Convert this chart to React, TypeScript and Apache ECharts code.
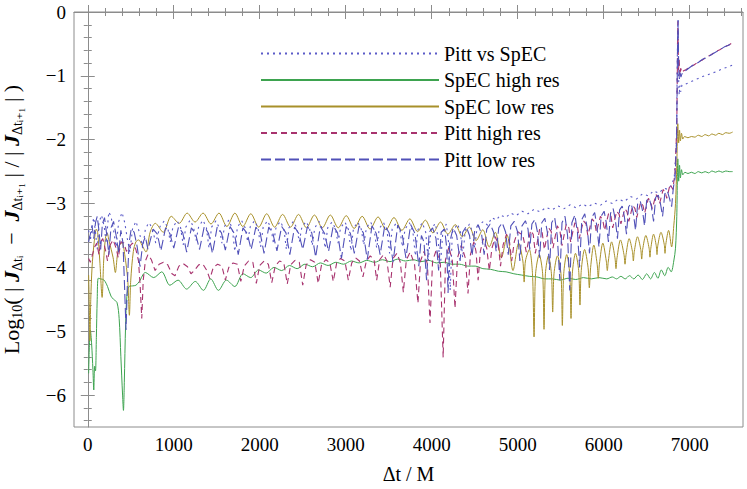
import React, { useEffect, useRef } from "react";
import * as echarts from "echarts";

const seriesNames = ["Pitt vs SpEC", "SpEC high res", "SpEC low res", "Pitt high res", "Pitt low res"];

const xMajorTicks = [0, 1000, 2000, 3000, 4000, 5000, 6000, 7000];
const xMinorTicks = [0, 200, 400, 600, 800, 1000, 1200, 1400, 1600, 1800, 2000, 2200, 2400, 2600, 2800, 3000, 3200, 3400, 3600, 3800, 4000, 4200, 4400, 4600, 4800, 5000, 5200, 5400, 5600, 5800, 6000, 6200, 6400, 6600, 6800, 7000, 7200, 7400, 7600];
const yMajorTicks = [-6, -5, -4, -3, -2, -1, 0];
const yMinorTicks = [-6.4, -6.2, -6, -5.8, -5.6, -5.4, -5.2, -5, -4.8, -4.6, -4.4, -4.2, -4, -3.8, -3.6, -3.4, -3.2, -3, -2.8, -2.6, -2.4, -2.2, -2, -1.8, -1.6, -1.4, -1.2, -1, -0.8, -0.6, -0.4, -0.2, 0];

const pittVsSpec: [number, number][] = [
  [10,-3.42],[30,-3.58],[50,-3.35],[70,-3.22],[90,-3.45],[110,-3.72],[130,-3.3],[160,-3.18],[190,-3.35],[215,-3.62],[244,-3.13],[270,-3.2],[300,-3.42],[330,-3.68],[360,-3.28],[399,-3.14],[430,-3.3],[460,-3.55],[490,-3.76],[520,-3.4],[560,-3.28],[600,-3.45],[640,-3.7],[670,-3.4],[710,-3.3],[750,-3.38],[790,-3.62],[840,-3.36],
  [890,-3.27],[930,-3.38],[960,-3.6],[990,-3.37],
  [1040,-3.27],[1080,-3.38],[1110,-3.65],[1140,-3.37],
  [1190,-3.26],[1230,-3.37],[1260,-3.58],[1290,-3.36],
  [1340,-3.26],[1380,-3.38],[1410,-3.7],[1440,-3.37],
  [1490,-3.27],[1530,-3.38],[1560,-3.62],[1590,-3.36],
  [1640,-3.26],[1680,-3.39],[1710,-3.75],[1740,-3.37],
  [1790,-3.27],[1830,-3.38],[1860,-3.6],[1890,-3.36],
  [1940,-3.27],[1980,-3.38],[2010,-3.68],[2040,-3.37],
  [2090,-3.27],[2130,-3.38],[2160,-3.63],[2190,-3.37],
  [2240,-3.28],[2280,-3.39],[2310,-3.72],[2340,-3.38],
  [2390,-3.28],[2430,-3.38],[2460,-3.6],[2490,-3.37],
  [2540,-3.28],[2580,-3.39],[2610,-3.66],[2640,-3.38],
  [2690,-3.28],[2730,-3.4],[2760,-3.7],[2790,-3.38],
  [2840,-3.29],[2880,-3.39],[2910,-3.62],[2940,-3.38],
  [2990,-3.29],[3030,-3.4],[3060,-3.74],[3090,-3.39],
  [3140,-3.29],[3180,-3.4],[3210,-3.65],[3240,-3.38],
  [3290,-3.29],[3330,-3.41],[3360,-3.7],[3390,-3.39],
  [3440,-3.3],[3480,-3.42],[3510,-3.78],[3540,-3.4],
  [3590,-3.3],[3630,-3.42],[3660,-3.68],[3690,-3.4],
  [3740,-3.3],[3780,-3.43],[3810,-3.82],[3840,-3.41],
  [3890,-3.3],[3930,-3.45],[3960,-3.9],[3990,-3.42],
  [4040,-3.31],[4070,-3.5],[4100,-4.0],[4130,-3.43],
  [4170,-3.32],[4195,-3.6],[4215,-4.36],[4240,-3.45],
  [4300,-3.32],[4335,-3.45],[4360,-3.85],[4390,-3.42],
  [4440,-3.32],[4475,-3.45],[4500,-3.7],[4525,-3.4],
  [4560,-3.33],[4600,-3.28],[4650,-3.34],[4700,-3.22],[4750,-3.26],[4800,-3.18],[4860,-3.22],[4920,-3.15],[4980,-3.19],[5050,-3.12],[5120,-3.16],[5190,-3.09],[5260,-3.13],[5330,-3.06],[5400,-3.1],[5470,-3.04],[5540,-3.08],[5610,-3.02],[5680,-3.07],[5750,-3.01],[5820,-3.05],[5890,-2.99],[5960,-3.03],[6030,-2.96],[6100,-3.0],[6170,-2.93],[6240,-2.97],[6310,-2.89],[6380,-2.93],[6450,-2.85],[6520,-2.88],[6580,-2.8],[6640,-2.84],[6700,-2.76],[6750,-2.78],[6790,-2.7],[6820,-2.6],[6845,-2.1],[6858,-0.5],[6864,-0.13],[6870,-1.0],[6878,-1.3],[6886,-1.15],[6895,-1.25],[6910,-1.14],[6950,-1.13],[7000,-1.1],[7050,-1.07],[7100,-1.04],[7150,-1.01],[7200,-0.99],[7250,-0.96],[7300,-0.94],[7350,-0.91],[7400,-0.88],[7450,-0.86],[7500,-0.83]
];

const specHigh: [number, number][] = [
  [10,-5.66],[20,-5.2],[30,-4.98],[45,-5.2],[60,-5.6],[70,-5.92],[80,-5.55],[90,-5.62],[100,-5.1],[110,-4.5],[122,-4.17],[150,-4.18],[190,-4.2],[230,-4.3],[270,-4.45],[300,-4.5],[340,-4.55],[365,-4.8],[385,-5.4],[405,-6.0],[415,-6.24],[425,-5.8],[440,-4.9],[455,-4.45],[480,-4.3],[520,-4.29],[560,-4.28],[600,-4.22],[670,-4.08],[767,-4.16],[860,-4.07],[955,-4.28],[1050,-4.2],[1150,-4.34],[1250,-4.22],[1345,-4.36],[1430,-4.18],[1520,-4.36],[1613,-4.2],[1710,-4.3],[1806,-4.1],[1895,-4.16],[1985,-4.04],[2075,-4.09],[2165,-4.0],[2255,-4.05],[2345,-3.97],[2435,-4.02],[2525,-3.95],[2615,-3.99],[2705,-3.93],[2795,-3.97],[2885,-3.92],[2975,-3.95],[3065,-3.9],[3155,-3.93],[3245,-3.89],[3335,-3.92],[3425,-3.88],[3515,-3.91],[3605,-3.87],[3695,-3.9],[3785,-3.88],[3875,-3.91],[3965,-3.89],[4055,-3.93],[4145,-3.92],[4235,-3.95],[4325,-3.95],[4415,-3.98],[4505,-3.98],[4595,-4.02],[4685,-4.03],[4775,-4.06],[4865,-4.07],[4955,-4.1],[5045,-4.12],[5135,-4.14],[5225,-4.15],[5315,-4.18],[5405,-4.18],[5495,-4.2],[5585,-4.17],[5675,-4.19],[5765,-4.16],[5855,-4.18],[5945,-4.16],[6035,-4.18],[6100,-4.15],[6150,-4.18],[6200,-4.14],[6250,-4.18],[6300,-4.13],[6350,-4.18],[6400,-4.12],[6450,-4.19],[6500,-4.1],[6545,-4.18],[6590,-4.08],[6630,-4.17],[6670,-4.04],[6710,-4.13],[6750,-4.0],[6785,-4.07],[6815,-3.9],[6835,-3.7],[6850,-3.2],[6862,-2.3],[6872,-2.65],[6882,-2.4],[6892,-2.6],[6905,-2.47],[6920,-2.55],[6945,-2.51],[6980,-2.53],[7020,-2.51],[7060,-2.53],[7100,-2.5],[7140,-2.52],[7180,-2.5],[7220,-2.52],[7260,-2.49],[7300,-2.51],[7340,-2.49],[7380,-2.51],[7420,-2.49],[7460,-2.5],[7500,-2.5]
];

const specLow: [number, number][] = [
  [10,-4.12],[18,-4.6],[25,-5.15],[35,-4.5],[50,-4.0],[75,-3.6],[100,-3.4],[115,-3.45],[140,-3.9],[167,-4.47],[185,-3.9],[205,-3.55],[224,-3.46],[250,-3.6],[295,-3.85],[321,-4.08],[345,-3.8],[370,-3.64],[399,-3.62],[430,-3.8],[465,-4.2],[484,-4.75],[500,-4.2],[530,-3.75],[560,-3.6],[593,-3.57],[630,-3.65],[678,-3.76],[725,-3.45],
  [786,-3.31],[878,-3.45],[971,-3.2],[1063,-3.31],[1156,-3.15],[1248,-3.29],[1341,-3.15],[1433,-3.32],[1526,-3.15],[1618,-3.36],[1711,-3.15],[1803,-3.36],[1896,-3.16],[1988,-3.37],[2081,-3.16],[2173,-3.37],[2266,-3.17],[2358,-3.37],[2451,-3.17],[2543,-3.38],[2636,-3.18],[2728,-3.38],[2821,-3.18],[2913,-3.38],[3006,-3.19],[3098,-3.39],[3191,-3.2],[3283,-3.4],[3376,-3.21],[3468,-3.41],[3561,-3.22],[3653,-3.42],[3746,-3.24],[3836,-3.44],[3926,-3.26],[4014,-3.46],[4102,-3.29],[4188,-3.48],[4274,-3.33],[4356,-3.52],[4438,-3.37],[4516,-3.58],[4594,-3.41],[4668,-3.68],[4740,-3.45],[4810,-3.85],[4878,-3.5],[4945,-4.05],[5010,-3.62],[5060,-3.9],[5075,-4.23],[5090,-3.9],[5135,-3.72],[5172,-4.1],[5190,-5.09],[5208,-4.1],[5250,-3.8],[5290,-4.1],[5306,-4.97],[5322,-4.1],[5357,-3.82],[5392,-4.1],[5407,-4.7],[5422,-4.1],[5462,-3.82],[5503,-4.1],[5519,-4.91],[5535,-4.1],[5570,-3.8],[5605,-4.1],[5620,-4.8],[5635,-4.1],[5672,-3.78],[5709,-4.05],[5724,-4.59],[5739,-4.05],[5778,-3.72],[5818,-4.0],[5833,-4.32],[5848,-4.0],[5885,-3.65],[5924,-3.95],[5937,-4.17],[5950,-3.95],[5990,-3.62],[6030,-3.9],[6042,-4.05],[6054,-3.9],[6092,-3.6],[6131,-3.85],[6143,-4.02],[6155,-3.85],[6195,-3.57],[6236,-3.8],[6248,-3.95],[6260,-3.8],[6296,-3.55],[6334,-3.75],[6345,-3.9],[6356,-3.75],[6393,-3.52],[6431,-3.72],[6442,-3.87],[6453,-3.72],[6490,-3.5],[6528,-3.7],[6538,-3.84],[6548,-3.7],[6580,-3.48],[6611,-3.66],[6620,-3.8],[6629,-3.66],[6666,-3.45],[6704,-3.64],[6713,-3.78],[6722,-3.64],[6755,-3.42],[6790,-3.68],[6815,-3.35],[6835,-3.0],[6850,-2.4],[6862,-1.75],[6872,-2.05],[6882,-1.85],[6892,-2.02],[6905,-1.9],[6920,-1.99],[6940,-1.95],[6980,-1.97],[7020,-1.95],[7060,-1.96],[7100,-1.93],[7140,-1.95],[7180,-1.92],[7220,-1.94],[7260,-1.91],[7300,-1.93],[7340,-1.9],[7380,-1.92],[7420,-1.89],[7460,-1.9],[7500,-1.88]
];

const pittHigh: [number, number][] = [
  [10,-3.86],[30,-3.92],[55,-3.8],[80,-3.68],[105,-3.62],[130,-3.8],[150,-3.6],[175,-3.55],[205,-3.72],[230,-3.9],[260,-3.65],[295,-3.57],[330,-3.7],[355,-3.85],[385,-3.6],[420,-3.62],[450,-3.75],[480,-3.68],[520,-3.62],[560,-3.72],[590,-3.9],[610,-4.3],[628,-4.8],[645,-4.2],[670,-3.9],[700,-3.8],[740,-3.88],[783,-4.05],[830,-3.95],[880,-3.92],[930,-3.96],[980,-4.1],[1015,-4.13],[1060,-3.98],[1110,-3.94],[1160,-3.99],[1200,-4.1],[1240,-4.05],[1290,-3.96],[1340,-3.95],[1385,-4.05],[1420,-4.18],[1460,-4.0],[1510,-3.95],[1560,-3.98],[1600,-4.2],[1640,-4.0],[1690,-3.93],[1740,-3.95],[1780,-4.22],[1820,-3.98],[1870,-3.9],[1920,-3.92],[1960,-4.25],[2000,-3.97],[2050,-3.9],[2100,-3.95],[2140,-4.24],[2180,-3.98],[2230,-3.9],[2280,-3.93],[2320,-4.26],[2360,-3.96],[2410,-3.89],[2460,-3.92],[2500,-4.28],[2540,-3.96],[2590,-3.88],[2640,-3.92],[2680,-4.25],[2720,-3.95],[2770,-3.88],[2815,-3.93],[2855,-4.22],[2895,-3.93],[2940,-3.86],[2990,-3.9],[3030,-4.2],[3070,-3.93],[3115,-3.85],[3160,-3.9],[3200,-4.15],[3240,-3.9],[3285,-3.82],[3330,-3.88],[3360,-4.2],[3395,-3.88],[3440,-3.8],[3480,-3.9],[3517,-4.31],[3550,-3.86],[3595,-3.78],[3635,-3.92],[3670,-4.39],[3705,-3.88],[3750,-3.76],[3800,-3.95],[3840,-4.56],[3870,-3.9],[3910,-3.75],[3950,-3.95],[3980,-4.87],[4010,-3.9],[4055,-3.72],[4100,-3.95],[4133,-5.41],[4160,-3.88],[4200,-3.68],[4240,-3.9],[4271,-4.64],[4300,-3.85],[4345,-3.65],[4390,-3.85],[4422,-4.41],[4450,-3.8],[4490,-3.6],[4515,-3.75],[4540,-4.2],[4565,-3.75],[4600,-3.55],[4640,-3.7],[4670,-4.05],[4700,-3.7],[4740,-3.52],[4775,-3.65],[4800,-3.98],[4830,-3.65],[4870,-3.48],[4905,-3.6],[4930,-3.9],[4960,-3.6],[5000,-3.44],[5060,-3.5],[5100,-3.76],[5150,-3.42],[5180,-3.48],[5205,-3.78],[5255,-3.4],[5285,-3.46],[5310,-3.72],[5360,-3.38],[5390,-3.44],[5410,-3.7],[5460,-3.35],[5490,-3.42],[5515,-3.66],[5565,-3.32],[5595,-3.38],[5615,-3.6],[5665,-3.3],[5695,-3.36],[5715,-3.55],[5765,-3.27],[5795,-3.32],[5815,-3.5],[5865,-3.24],[5895,-3.29],[5915,-3.45],[5962,-3.2],[5990,-3.26],[6010,-3.42],[6058,-3.15],[6085,-3.2],[6105,-3.38],[6152,-3.12],[6180,-3.17],[6200,-3.32],[6246,-3.08],[6272,-3.13],[6292,-3.28],[6338,-3.03],[6364,-3.08],[6384,-3.22],[6430,-2.98],[6456,-3.03],[6476,-3.15],[6520,-2.92],[6545,-2.97],[6565,-3.08],[6608,-2.86],[6632,-2.9],[6650,-3.0],[6692,-2.78],[6715,-2.82],[6733,-2.92],[6772,-2.7],[6805,-2.78],[6830,-2.5],[6850,-1.8],[6862,-0.15],[6870,-0.9],[6878,-0.75],[6886,-1.0],[6895,-0.88],[6910,-0.95],[6930,-0.92],[6960,-0.9],[7000,-0.86],[7050,-0.83],[7100,-0.78],[7150,-0.75],[7200,-0.7],[7250,-0.67],[7300,-0.62],[7350,-0.59],[7400,-0.55],[7450,-0.52],[7500,-0.48]
];

const pittLow: [number, number][] = [
  [10,-3.6],[30,-3.48],[50,-3.35],[70,-3.55],[90,-3.3],[110,-3.2],[130,-3.42],[150,-3.72],[170,-3.32],[195,-3.22],[220,-3.48],[245,-3.8],[270,-3.38],[300,-3.28],[330,-3.5],[360,-3.78],[385,-3.42],[410,-3.62],[428,-4.3],[445,-4.98],[462,-4.2],[480,-3.62],[505,-3.4],[540,-3.45],[575,-3.68],[608,-3.99],[640,-3.62],[670,-3.52],[700,-3.72],
  [760,-3.4],[810,-3.48],[850,-3.74],[905,-3.38],[955,-3.47],[1000,-3.7],[1055,-3.37],[1105,-3.46],[1150,-3.76],[1205,-3.38],[1255,-3.48],[1300,-3.72],[1355,-3.36],[1405,-3.47],[1450,-3.78],[1505,-3.37],[1555,-3.46],[1600,-3.73],[1655,-3.36],[1705,-3.47],[1750,-3.8],[1805,-3.38],[1855,-3.47],[1900,-3.72],[1955,-3.37],[2005,-3.46],[2050,-3.78],[2105,-3.37],[2155,-3.48],[2200,-3.74],[2255,-3.36],[2305,-3.46],[2350,-3.8],[2405,-3.37],[2455,-3.47],[2500,-3.72],[2555,-3.36],[2605,-3.46],[2650,-3.84],[2705,-3.36],[2755,-3.47],[2800,-3.75],[2855,-3.35],[2905,-3.46],[2950,-3.86],[3005,-3.36],[3055,-3.47],[3100,-3.78],[3155,-3.35],[3205,-3.46],[3250,-3.88],[3305,-3.35],[3355,-3.47],[3400,-3.8],[3455,-3.34],[3505,-3.46],[3550,-3.92],[3605,-3.34],[3655,-3.47],[3700,-3.85],[3755,-3.33],[3805,-3.47],[3850,-3.98],[3880,-3.5],[3910,-3.6],[3940,-4.2],[3970,-3.45],[4010,-3.38],[4050,-3.55],[4080,-4.05],[4110,-3.45],[4150,-3.4],[4175,-3.7],[4190,-4.4],[4210,-3.6],[4250,-3.38],[4290,-3.5],[4330,-3.9],[4360,-3.45],[4400,-3.36],[4440,-3.5],[4470,-3.82],[4500,-3.42],[4540,-3.33],[4580,-3.48],[4610,-3.8],[4640,-3.4],[4680,-3.32],[4720,-3.45],[4750,-3.75],[4780,-3.38],[4820,-3.3],[4860,-3.45],[4890,-3.8],[4920,-3.35],[4960,-3.28],[5000,-3.45],[5025,-3.9],[5050,-3.35],[5090,-3.27],[5120,-3.4],[5140,-3.72],[5165,-3.32],[5200,-3.25],[5230,-3.45],[5255,-3.85],[5280,-3.3],[5315,-3.23],[5345,-3.45],[5370,-4.04],[5395,-3.3],[5430,-3.22],[5460,-3.5],[5490,-4.2],[5515,-3.3],[5550,-3.2],[5580,-3.5],[5605,-4.36],[5630,-3.3],[5665,-3.18],[5695,-3.45],[5720,-4.0],[5745,-3.25],[5780,-3.16],[5810,-3.4],[5835,-3.78],[5860,-3.22],[5895,-3.14],[5920,-3.35],[5945,-3.68],[5970,-3.2],[6005,-3.12],[6030,-3.3],[6055,-3.6],[6080,-3.15],[6110,-3.08],[6135,-3.25],[6160,-3.55],[6185,-3.1],[6215,-3.04],[6240,-3.2],[6265,-3.48],[6290,-3.05],[6320,-3.0],[6345,-3.15],[6370,-3.42],[6395,-3.0],[6425,-2.96],[6450,-3.1],[6475,-3.35],[6500,-2.95],[6530,-2.92],[6555,-3.05],[6580,-3.28],[6605,-2.9],[6635,-2.87],[6660,-3.0],[6685,-3.2],[6710,-2.85],[6740,-2.8],[6765,-2.92],[6790,-3.05],[6810,-2.75],[6830,-2.6],[6848,-2.0],[6860,-0.4],[6866,-0.13],[6872,-0.9],[6880,-1.05],[6888,-0.95],[6898,-1.02],[6910,-0.97],[6940,-0.93],[6970,-0.9],[7000,-0.87],[7050,-0.82],[7100,-0.79],[7150,-0.74],[7200,-0.71],[7250,-0.67],[7300,-0.63],[7350,-0.59],[7400,-0.55],[7450,-0.52],[7500,-0.49]
];

const SERIF = "'Liberation Serif', 'DejaVu Serif', serif";
const FRAME = "#8c8c8c";

function fmtY(v: number): string {
  return v < 0 ? "\u2212" + String(-v) : String(v);
}

function tickAxis(position: string, ticks: number[], len: number, extra: any = {}) {
  return {
    type: "value",
    position,
    axisLine: { show: false },
    axisTick: { show: true, inside: true, length: len, customValues: ticks, lineStyle: { color: FRAME, width: 1 } },
    axisLabel: { show: false },
    splitLine: { show: false },
    ...extra,
  };
}

export default function App() {
  const ref = useRef<HTMLDivElement>(null);
  useEffect(() => {
    if (!ref.current) return;
    const chart = echarts.init(ref.current, null, { renderer: "svg" });
    const xr = { min: -160, max: 7620 };
    const yr = { min: -6.5, max: 0 };
    const option: any = {
      animation: false,
      backgroundColor: "#ffffff",
      grid: { left: 74, top: 12, width: 669, height: 415, containLabel: false, outerBoundsMode: "none", show: true, borderColor: FRAME, borderWidth: 1 },
      legend: {
        orient: "vertical",
        left: 260,
        top: 43,
        padding: 0,
        itemWidth: 178,
        itemHeight: 14,
        itemGap: 5.5,
        itemStyle: { opacity: 0 },
        textStyle: { fontFamily: SERIF, fontSize: 20, color: "#000", lineHeight: 21 },
        data: seriesNames,
      },
      xAxis: [
        {
          type: "value", ...xr, position: "bottom",
          axisLine: { show: true, lineStyle: { color: FRAME } },
          axisTick: { show: true, inside: true, length: 7, customValues: xMajorTicks, lineStyle: { color: FRAME } },
          axisLabel: { customValues: xMajorTicks, fontFamily: SERIF, fontSize: 19, color: "#000", margin: 8, formatter: (v: number) => String(v) },
          splitLine: { show: false },
          name: "\u0394t / M",
          nameLocation: "middle",
          nameGap: 37,
          nameTextStyle: { fontFamily: SERIF, fontSize: 20, color: "#000" },
        },
        tickAxis("bottom", xMinorTicks, 4, xr),
        tickAxis("top", xMajorTicks, 7, xr),
        tickAxis("top", xMinorTicks, 4, xr),
      ],
      yAxis: [
        {
          type: "value", ...yr, position: "left",
          axisLine: { show: true, lineStyle: { color: FRAME } },
          axisTick: { show: true, inside: true, length: 7, customValues: yMajorTicks, lineStyle: { color: FRAME } },
          axisLabel: { customValues: yMajorTicks, fontFamily: SERIF, fontSize: 19, color: "#000", margin: 8, formatter: fmtY },
          splitLine: { show: false },
          name: "{n|Log}{s|10}{n|( | }{j|J}{s|\u0394t\u1D62}{n|  \u2212  }{j|J}{s|\u0394t\u1D62\u208A\u2081}{n| | / | }{j|J}{s|\u0394t\u1D62\u208A\u2081}{n| | )}",
          nameLocation: "middle",
          nameRotate: 90,
          nameGap: 50,
          nameTextStyle: {
            fontFamily: SERIF, fontSize: 22, color: "#000",
            rich: {
              n: { fontFamily: SERIF, fontSize: 22, color: "#000" },
              j: { fontFamily: SERIF, fontSize: 22, color: "#000", fontStyle: "italic", fontWeight: "bold" },
              s: { fontFamily: SERIF, fontSize: 14, color: "#000", padding: [11, 0, 0, 0] },
            },
          },
        },
        tickAxis("left", yMinorTicks, 4, yr),
        tickAxis("right", yMajorTicks, 7, yr),
        tickAxis("right", yMinorTicks, 4, yr),
      ],
      series: [
        { name: seriesNames[0], type: "line", data: pittVsSpec, showSymbol: false, symbol: "none", lineStyle: { color: "#5b5bc8", width: 1.1, type: [2, 4] }, itemStyle: { color: "#5b5bc8" }, z: 3 },
        { name: seriesNames[1], type: "line", data: specHigh, showSymbol: false, symbol: "none", smooth: 0.3, lineStyle: { color: "#3da34f", width: 1 }, itemStyle: { color: "#3da34f" }, z: 2 },
        { name: seriesNames[2], type: "line", data: specLow, showSymbol: false, symbol: "none", smooth: 0.3, lineStyle: { color: "#a8902a", width: 1 }, itemStyle: { color: "#a8902a" }, z: 2 },
        { name: seriesNames[3], type: "line", data: pittHigh, showSymbol: false, symbol: "none", lineStyle: { color: "#a8336e", width: 1.1, type: [6, 4] }, itemStyle: { color: "#a8336e" }, z: 3 },
        { name: seriesNames[4], type: "line", data: pittLow, showSymbol: false, symbol: "none", lineStyle: { color: "#5050b8", width: 1.1, type: [10, 4] }, itemStyle: { color: "#5050b8" }, z: 3 },
      ],
    };
    chart.setOption(option);
    return () => chart.dispose();
  }, []);
  return <div ref={ref} style={{ position: "fixed", left: 0, top: 0, width: 747, height: 489, background: "#fff" }} />;
}
